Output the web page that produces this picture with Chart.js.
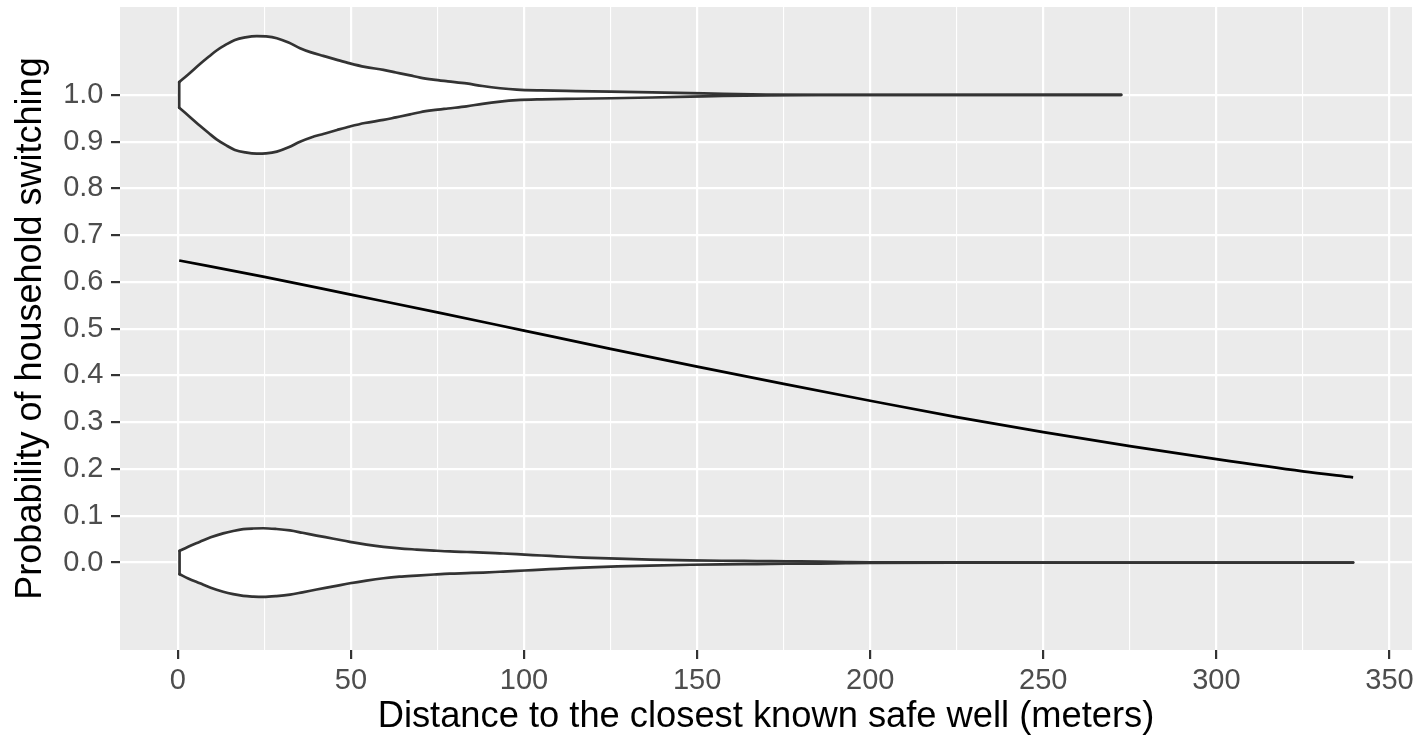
<!DOCTYPE html>
<html>
<head>
<meta charset="utf-8">
<script src="https://cdn.jsdelivr.net/npm/chart.js@4/dist/chart.umd.min.js"></script>
<style>
html, body { margin: 0; padding: 0; background: #ffffff; }
#wrap { width: 1418px; height: 735px; }
</style>
</head>
<body>
<div id="wrap"><canvas id="c" width="1418" height="735"></canvas></div>
<script>
// ---- tick values / labels ----
const xMajorTicks = [0, 50, 100, 150, 200, 250, 300, 350];
const xMinorTicks = [25, 75, 125, 175, 225, 275, 325];
const yTicks = [0, 0.1, 0.2, 0.3, 0.4, 0.5, 0.6, 0.7, 0.8, 0.9, 1.0];
const yTickLabels = ['0.0', '0.1', '0.2', '0.3', '0.4', '0.5', '0.6', '0.7', '0.8', '0.9', '1.0'];

// ---- fitted probability curve ----
const curveDistance = [0.4, 25, 50, 75, 100, 125, 150, 175, 200, 225, 250, 275, 300, 325, 339.5];
const curveProbability = [0.646, 0.611, 0.573, 0.535, 0.496, 0.457, 0.419, 0.382, 0.346, 0.311, 0.279, 0.249, 0.221, 0.195, 0.182];

// ---- violin for households that switched (centered at 1) ----
const switchCenter = 1;
const switchDistance = [0.4, 3, 6.4, 9, 11.2, 14, 16.5, 19.5, 22.8, 25.5, 28.6, 32, 35.3, 38.5, 42, 46, 49.7, 54, 59.4, 63, 67.1, 70, 73.8, 78, 83.4, 88, 93.1, 97.9, 105, 115, 125, 137, 148, 157.5, 170, 185, 272.5];
const switchHalfWidth = [0.0274, 0.0438, 0.066, 0.082, 0.095, 0.108, 0.1176, 0.123, 0.1257, 0.125, 0.1212, 0.112, 0.100, 0.091, 0.0835, 0.075, 0.0675, 0.060, 0.0535, 0.048, 0.0417, 0.037, 0.0327, 0.029, 0.0245, 0.019, 0.0143, 0.0113, 0.0095, 0.0082, 0.0071, 0.0055, 0.0038, 0.0022, 0.0008, 0.0002, 0.0001];

// ---- violin for households that did not switch (centered at 0) ----
const stayCenter = 0;
const stayDistance = [0.5, 3, 6.4, 9.5, 13.1, 16, 18.9, 21.8, 24.7, 28.5, 32.4, 36, 40.1, 45, 49.7, 54.5, 59.4, 64, 69, 74, 78.6, 83.5, 88.2, 93, 97.9, 102.5, 107.5, 112, 117.1, 127, 136.4, 148, 157, 167.3, 176, 185.5, 193, 200, 230, 280, 339.5];
const stayHalfWidth = [0.0249, 0.034, 0.0445, 0.054, 0.0624, 0.0675, 0.0713, 0.0728, 0.0734, 0.0718, 0.0687, 0.0637, 0.0577, 0.051, 0.0442, 0.0385, 0.0336, 0.0302, 0.0278, 0.0256, 0.0238, 0.0226, 0.0214, 0.0197, 0.0179, 0.016, 0.0142, 0.0124, 0.0107, 0.0082, 0.0064, 0.0047, 0.0038, 0.0032, 0.0026, 0.0021, 0.0012, 0.0006, 0.0002, 0.0001, 0.0001];

function violinPolygon(xs, ws, c) {
  const pts = [];
  for (let i = 0; i < xs.length; i++) pts.push({x: xs[i], y: c + ws[i]});
  for (let i = xs.length - 1; i >= 0; i--) pts.push({x: xs[i], y: c - ws[i]});
  return pts;
}
function violinEdge(xs, ws, c, sign) {
  return xs.map((x, i) => ({x: x, y: c + sign * ws[i]}));
}
function violinLeftEdge(xs, ws, c) {
  return [{x: xs[0], y: c + ws[0]}, {x: xs[0], y: c - ws[0]}];
}

const FONT = '"Liberation Sans", Arial, Helvetica, sans-serif';
const OUTLINE = '#333333';
const OUTLINE_W = 2.7;

function violinDatasets(xs, ws, c) {
  const edge = data => ({
    data: data, showLine: true, fill: false, borderColor: OUTLINE, borderWidth: OUTLINE_W,
    cubicInterpolationMode: 'monotone', pointRadius: 0,
    borderCapStyle: 'round', borderJoinStyle: 'round', order: 1
  });
  return [
    {
      data: violinPolygon(xs, ws, c), showLine: true, fill: 'shape',
      backgroundColor: '#FFFFFF', borderColor: 'rgba(0,0,0,0)', borderWidth: 0,
      tension: 0, pointRadius: 0, order: 2
    },
    edge(violinEdge(xs, ws, c, 1)),
    edge(violinEdge(xs, ws, c, -1)),
    Object.assign(edge(violinLeftEdge(xs, ws, c)), { cubicInterpolationMode: 'default', tension: 0 })
  ];
}

const panelBackground = {
  id: 'panelBackground',
  beforeDraw(chart) {
    const {ctx, chartArea: a} = chart;
    ctx.save();
    ctx.fillStyle = '#FFFFFF';
    ctx.fillRect(0, 0, chart.width, chart.height);
    ctx.fillStyle = '#EBEBEB';
    ctx.fillRect(a.left, a.top, a.right - a.left, a.bottom - a.top);
    ctx.restore();
  }
};

const isMajorX = v => xMajorTicks.indexOf(v) >= 0;

new Chart(document.getElementById('c'), {
  type: 'scatter',
  data: {
    datasets: [].concat(
      violinDatasets(stayDistance, stayHalfWidth, stayCenter),
      violinDatasets(switchDistance, switchHalfWidth, switchCenter),
      [{
        data: curveDistance.map((d, i) => ({x: d, y: curveProbability[i]})),
        showLine: true, fill: false, borderColor: '#000000', borderWidth: 2.7,
        cubicInterpolationMode: 'monotone', pointRadius: 0, order: 0
      }]
    )
  },
  options: {
    responsive: false,
    animation: false,
    devicePixelRatio: 1,
    layout: { padding: { left: 0, top: 7, right: 6, bottom: 0 } },
    plugins: { legend: { display: false }, tooltip: { enabled: false } },
    events: [],
    scales: {
      x: {
        type: 'linear', min: -16.7, max: 356.5,
        afterBuildTicks: s => { s.ticks = xMajorTicks.concat(xMinorTicks).sort((a, b) => a - b).map(v => ({value: v})); },
        afterFit: s => { s.height = 85; s.paddingLeft = 0; s.paddingRight = 0; },
        border: { display: false },
        grid: {
          color: '#FFFFFF',
          lineWidth: ctx => (ctx.tick && isMajorX(ctx.tick.value)) ? 2.2 : 1.1,
          drawTicks: true, tickLength: 9, tickWidth: 2.2,
          tickColor: ctx => (ctx.tick && isMajorX(ctx.tick.value)) ? '#333333' : 'rgba(0,0,0,0)'
        },
        ticks: {
          autoSkip: false, maxRotation: 0, padding: 4.5, color: '#4D4D4D',
          font: { family: FONT, size: 29 },
          callback: v => isMajorX(v) ? String(v) : ''
        },
        title: {
          display: true, text: 'Distance to the closest known safe well (meters)',
          color: '#000000', font: { family: FONT, size: 36.3, lineHeight: 1 },
          padding: { top: 0, bottom: 0 }
        }
      },
      y: {
        type: 'linear', min: -0.187, max: 1.188,
        afterBuildTicks: s => { s.ticks = yTicks.map(v => ({value: v})); },
        afterFit: s => { s.width = 120; s.paddingTop = 0; s.paddingBottom = 0; },
        border: { display: false },
        grid: {
          color: '#FFFFFF', lineWidth: 2.2,
          drawTicks: true, tickLength: 9, tickWidth: 2.2, tickColor: '#333333'
        },
        ticks: {
          autoSkip: false, padding: 7.5, color: '#4D4D4D',
          font: { family: FONT, size: 29 },
          callback: (v, i) => yTickLabels[i]
        },
        title: {
          display: true, text: 'Probability of household switching',
          color: '#000000', font: { family: FONT, size: 36, lineHeight: 1 },
          padding: { top: 13, bottom: 0 }
        }
      }
    }
  },
  plugins: [panelBackground]
});
</script>
</body>
</html>
